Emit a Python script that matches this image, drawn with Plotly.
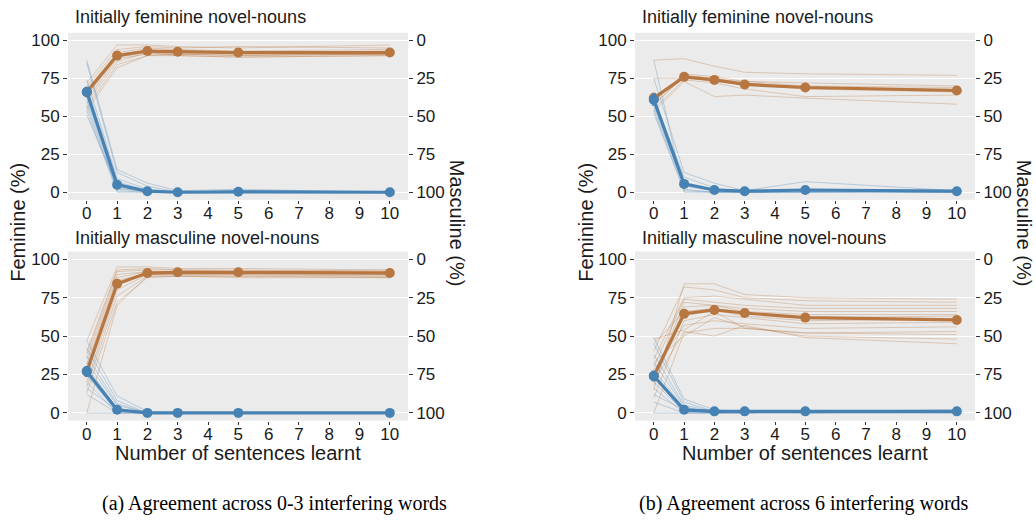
import plotly.graph_objects as go

# Number of sentences learnt (x positions shared by every panel)
sentences = [0, 1, 2, 3, 5, 10]
x_ticks = list(range(0, 11))
y_ticks = [0, 25, 50, 75, 100]

panel_titles = ["Initially feminine novel-nouns", "Initially masculine novel-nouns"]
captions = ["(a) Agreement across 0-3 interfering words",
            "(b) Agreement across 6 interfering words"]

# ---------- (a) 0-3 interfering words, initially feminine ----------
a_fem_mean = [66, 90, 93, 92.5, 92, 92]
a_fem_se = [2, 1.5, 1, 1, 1, 1]
a_fem_masc_mean = [34, 95, 99.3, 100, 99.7, 100]
a_fem_masc_se = [3, 1.5, 0.5, 0, 0.3, 0]
a_fem_items = [
    [72, 97, 97, 96, 95, 97],
    [70, 94, 96, 95, 96, 95],
    [68, 92, 95, 94, 93, 94],
    [67, 91, 93, 93, 92, 93],
    [65, 90, 94, 92, 92, 92],
    [63, 89, 92, 91, 91, 91],
    [61, 88, 91, 91, 90, 91],
    [59, 86, 92, 90, 89, 90],
    [56, 84, 90, 90, 89, 90],
    [54, 82, 90, 91, 90, 91],
]
a_fem_masc_items = [
    [13, 85, 94, 99, 98, 100],
    [15, 87, 96, 100, 99, 100],
    [26, 91, 98, 100, 100, 100],
    [30, 93, 99, 100, 100, 100],
    [34, 95, 100, 100, 99, 100],
    [37, 97, 100, 100, 100, 100],
    [40, 98, 99, 100, 100, 100],
    [43, 99, 100, 100, 100, 100],
    [46, 100, 100, 100, 100, 100],
    [49, 96, 100, 100, 100, 100],
]

# ---------- (a) 0-3 interfering words, initially masculine ----------
a_masc_mean = [27, 84, 91, 91.5, 91.5, 91]
a_masc_se = [3, 2, 0.8, 0.6, 0.6, 0.6]
a_masc_masc_mean = [73, 98, 100, 100, 100, 100]
a_masc_masc_se = [3, 1, 0, 0, 0, 0]
a_masc_items = [
    [47, 95, 95, 94, 94, 93],
    [40, 93, 94, 93, 93, 92],
    [38, 92, 93, 93, 92, 93],
    [35, 90, 92, 92, 92, 92],
    [32, 88, 92, 92, 91, 91],
    [30, 86, 91, 91, 92, 91],
    [27, 85, 90, 91, 91, 91],
    [24, 83, 91, 90, 90, 90],
    [20, 80, 90, 90, 90, 89],
    [17, 76, 89, 89, 89, 89],
    [13, 72, 88, 89, 88, 88],
    [0, 70, 89, 89, 89, 88],
]
a_masc_masc_items = [
    [53, 89, 99, 100, 100, 100],
    [58, 92, 100, 100, 100, 100],
    [63, 94, 100, 100, 100, 100],
    [67, 95, 100, 100, 100, 100],
    [70, 97, 100, 100, 100, 100],
    [73, 98, 100, 100, 100, 100],
    [76, 99, 100, 100, 100, 100],
    [80, 100, 100, 100, 100, 100],
    [84, 98, 100, 100, 100, 100],
    [88, 100, 100, 100, 100, 100],
    [100, 100, 100, 100, 100, 100],
]

# ---------- (b) 6 interfering words, initially feminine ----------
b_fem_mean = [62, 76, 74, 71, 69, 67]
b_fem_se = [3, 1.5, 1.5, 1.5, 1.5, 1.5]
b_fem_masc_mean = [39, 94.5, 98.5, 99.3, 98.5, 99.3]
b_fem_masc_se = [3.5, 1.5, 0.8, 0.4, 0.8, 0.4]
b_fem_items = [
    [87, 88, 83, 79, 78, 77],
    [75, 75, 74, 73, 72, 70],
    [60, 78, 76, 73, 70, 69],
    [57, 77, 75, 72, 69, 68],
    [55, 74, 72, 68, 63, 64],
    [53, 73, 63, 64, 62, 58],
    [58, 76, 73, 71, 68, 66],
]
b_fem_masc_items = [
    [13, 100, 100, 100, 100, 100],
    [25, 87, 94, 99, 93, 99],
    [38, 90, 97, 100, 98, 99],
    [42, 94, 99, 99, 99, 100],
    [44, 96, 99, 99, 99, 99],
    [46, 98, 100, 100, 100, 100],
    [48, 99, 100, 100, 100, 99],
]

# ---------- (b) 6 interfering words, initially masculine ----------
b_masc_mean = [24, 64.5, 67, 65, 62, 60.5]
b_masc_se = [3, 2.5, 2, 2, 2, 2]
b_masc_masc_mean = [76, 98, 99, 99, 99, 99]
b_masc_masc_se = [3, 0.8, 0.3, 0.3, 0.3, 0.3]
b_masc_items = [
    [15, 84, 84, 77, 75, 74],
    [40, 82, 80, 75, 73, 72],
    [35, 75, 76, 74, 70, 70],
    [30, 74, 72, 70, 68, 68],
    [22, 72, 70, 68, 66, 66],
    [18, 69, 70, 66, 64, 64],
    [45, 66, 68, 65, 62, 63],
    [25, 63, 67, 63, 60, 61],
    [10, 60, 64, 62, 58, 59],
    [28, 57, 60, 58, 55, 56],
    [48, 54, 66, 55, 52, 53],
    [0, 52, 55, 55, 52, 51],
    [33, 50, 62, 56, 50, 48],
    [20, 53, 50, 57, 49, 45],
]
b_masc_masc_items = [
    [51, 91, 98, 99, 99, 98],
    [55, 93, 99, 99, 99, 99],
    [62, 95, 99, 100, 99, 99],
    [67, 96, 100, 99, 100, 99],
    [72, 97, 99, 99, 99, 100],
    [76, 98, 100, 100, 99, 99],
    [80, 99, 99, 99, 100, 99],
    [84, 100, 100, 100, 99, 99],
    [88, 98, 100, 100, 100, 100],
    [93, 100, 100, 99, 99, 99],
    [100, 100, 100, 100, 100, 100],
]

# ---------- styling ----------
W, H = 1036, 523
ORANGE = "#B87640"
BLUE = "#4682B4"
ORANGE_THIN = "rgba(184,118,64,0.32)"
BLUE_THIN = "rgba(70,130,180,0.32)"
BG = "#EBEBEB"
TXT = "#1a1a1a"
SANS = "Liberation Sans, Arial, sans-serif"
SERIF = "Liberation Serif, Times New Roman, serif"


def fx(p):
    return p / W


def fy(p):
    return 1 - p / H


# plot-area pixel boxes: (left, right, top, bottom)
boxes = [
    (68, 408, 32, 200),
    (68, 408, 252, 422),
    (635, 975, 32, 200),
    (635, 975, 252, 422),
]

panels = [
    (a_fem_items, a_fem_masc_items, a_fem_mean, a_fem_se, a_fem_masc_mean, a_fem_masc_se),
    (a_masc_items, a_masc_masc_items, a_masc_mean, a_masc_se, a_masc_masc_mean, a_masc_masc_se),
    (b_fem_items, b_fem_masc_items, b_fem_mean, b_fem_se, b_fem_masc_mean, b_fem_masc_se),
    (b_masc_items, b_masc_masc_items, b_masc_mean, b_masc_se, b_masc_masc_mean, b_masc_masc_se),
]

fig = go.Figure()
layout = {}
annotations = []

for i, ((l, r, t, b), (fitems, mitems, fmean, fse, mmean, mse)) in enumerate(zip(boxes, panels)):
    xn = i + 1
    yl = 2 * i + 1
    yr = 2 * i + 2
    xref = "x" if xn == 1 else f"x{xn}"
    ylref = "y" if yl == 1 else f"y{yl}"
    yrref = f"y{yr}"

    # individual thin lines
    for row in fitems:
        fig.add_trace(go.Scatter(x=sentences, y=row, mode="lines",
                                 line=dict(color=ORANGE_THIN, width=1),
                                 xaxis=xref, yaxis=ylref, hoverinfo="skip",
                                 showlegend=False))
    for row in mitems:
        fig.add_trace(go.Scatter(x=sentences, y=row, mode="lines",
                                 line=dict(color=BLUE_THIN, width=1),
                                 xaxis=xref, yaxis=yrref, hoverinfo="skip",
                                 showlegend=False))
    # mean lines
    fig.add_trace(go.Scatter(x=sentences, y=fmean, mode="lines+markers",
                             line=dict(color=ORANGE, width=3.2),
                             marker=dict(color=ORANGE, size=10),
                             error_y=dict(type="data", array=fse, color=ORANGE,
                                          thickness=1.5, width=2),
                             xaxis=xref, yaxis=ylref, showlegend=False))
    fig.add_trace(go.Scatter(x=sentences, y=mmean, mode="lines+markers",
                             line=dict(color=BLUE, width=3.2),
                             marker=dict(color=BLUE, size=10),
                             error_y=dict(type="data", array=mse, color=BLUE,
                                          thickness=1.5, width=2),
                             xaxis=xref, yaxis=yrref, showlegend=False))

    xkey = "xaxis" if xn == 1 else f"xaxis{xn}"
    ylkey = "yaxis" if yl == 1 else f"yaxis{yl}"
    yrkey = f"yaxis{yr}"
    tickfont = dict(family=SANS, size=17, color=TXT)
    layout[xkey] = dict(domain=[fx(l), fx(r)], anchor=ylref, range=[-0.62, 10.6],
                        tickmode="array", tickvals=x_ticks, ticks="outside",
                        ticklen=3, tickcolor="#333", tickwidth=1,
                        ticklabelstandoff=-5,
                        showgrid=False, zeroline=False, showline=False,
                        tickfont=tickfont, fixedrange=True)
    layout[ylkey] = dict(domain=[fy(b), fy(t)], anchor=xref, range=[-5, 105],
                         tickmode="array", tickvals=y_ticks, ticks="outside",
                         ticklen=4, tickcolor="#333", tickwidth=1,
                         showgrid=True, gridcolor="white", gridwidth=1.3,
                         zeroline=False, showline=False, tickfont=tickfont,
                         fixedrange=True)
    layout[yrkey] = dict(overlaying=ylref, anchor=xref, side="right",
                         range=[105, -5], tickmode="array", tickvals=y_ticks,
                         ticks="outside", ticklen=4, tickcolor="#333", tickwidth=1,
                         showgrid=False, zeroline=False, showline=False,
                         tickfont=tickfont, fixedrange=True)

    # panel title
    annotations.append(dict(text=panel_titles[i % 2], x=fx(l + 5), y=fy(16 if i % 2 == 0 else 238),
                            xref="paper", yref="paper", xanchor="left", yanchor="middle",
                            showarrow=False, font=dict(family=SANS, size=18, color=TXT)))

# shared axis titles per column
for col, (lx, rx, cx, capx) in enumerate([(18, 457, 238, 274), (586, 1024, 805, 804)]):
    annotations.append(dict(text="Feminine (%)", x=fx(lx), y=fy(223), xref="paper", yref="paper",
                            xanchor="center", yanchor="middle", textangle=-90, showarrow=False,
                            font=dict(family=SANS, size=20, color=TXT)))
    annotations.append(dict(text="Masculine (%)", x=fx(rx), y=fy(223), xref="paper", yref="paper",
                            xanchor="center", yanchor="middle", textangle=90, showarrow=False,
                            font=dict(family=SANS, size=20, color=TXT)))
    annotations.append(dict(text="Number of sentences learnt", x=fx(cx), y=fy(455),
                            xref="paper", yref="paper", xanchor="center", yanchor="middle",
                            showarrow=False, font=dict(family=SANS, size=20, color=TXT)))
    annotations.append(dict(text=captions[col], x=fx(capx), y=fy(505),
                            xref="paper", yref="paper", xanchor="center", yanchor="middle",
                            showarrow=False, font=dict(family=SERIF, size=20, color="black")))

fig.update_layout(width=W, height=H, margin=dict(l=0, r=0, t=0, b=0),
                  paper_bgcolor="white", plot_bgcolor=BG, showlegend=False,
                  annotations=annotations, **layout)

fig.write_html("out.html", config={"displayModeBar": False})
